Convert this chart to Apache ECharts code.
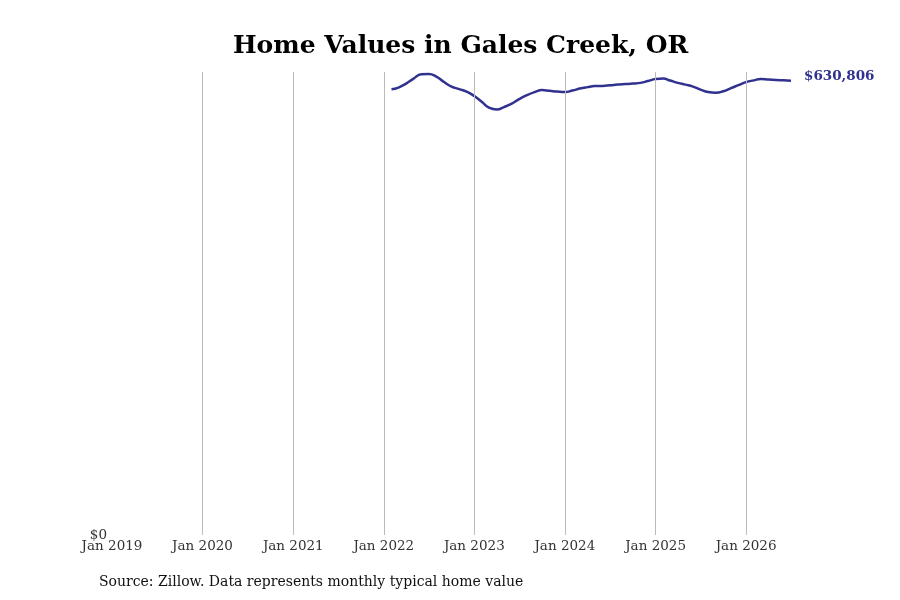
<!DOCTYPE html>
<html>
<head>
<meta charset="utf-8">
<script src="https://cdn.jsdelivr.net/npm/echarts@6/dist/echarts.min.js"></script>
<style>
  html, body { margin: 0; padding: 0; background: #fff; }
  #chart { width: 900px; height: 600px; }
</style>
</head>
<body>
<div id="chart"></div>
<script>
var months = [
	'2022-02', '2022-03', '2022-04', '2022-05', '2022-06', '2022-07', '2022-08', '2022-09', '2022-10', '2022-11', '2022-12',
	'2023-01', '2023-02', '2023-03', '2023-04', '2023-05', '2023-06', '2023-07', '2023-08', '2023-09', '2023-10', '2023-11', '2023-12',
	'2024-01', '2024-02', '2024-03', '2024-04', '2024-05', '2024-06', '2024-07', '2024-08', '2024-09', '2024-10', '2024-11', '2024-12',
	'2025-01', '2025-02', '2025-03', '2025-04', '2025-05', '2025-06', '2025-07', '2025-08', '2025-09', '2025-10', '2025-11', '2025-12',
	'2026-01', '2026-02', '2026-03', '2026-04', '2026-05', '2026-06', '2026-07'
];
var homeValues = [
	618900, 621400, 626900, 633800, 639800, 640100, 636600, 629000, 622700, 619300, 615800,
	609600, 601200, 593600, 590800, 594300, 599100, 605400, 610900, 615100, 617900, 616900, 615800,
	615100, 617200, 620000, 622000, 623400, 623700, 624500, 625500, 626200, 626900, 627900, 630400,
	633200, 633800, 631100, 627900, 625500, 622700, 618600, 615100, 614100, 616200, 620700, 624800,
	629000, 631400, 633200, 632600, 632000, 631400, 630806
];
// vertical guide lines, one per year (none at Jan 2019)
var gridYears = ['2020-01-01', '2021-01-01', '2022-01-01', '2023-01-01', '2024-01-01', '2025-01-01', '2026-01-01'];

var chart = document.getElementById('chart');
var myChart = echarts.init(chart);

var data = months.map(function (m, i) {
	return [m + '-01', homeValues[i]];
});

var font = '"DejaVu Serif", serif';

var option = {
	animation: false,
	title: {
		text: 'Home Values in Gales Creek, OR',
		left: 228,
		top: 29,
		textStyle: {
			fontFamily: font,
			fontSize: 25,
			fontWeight: 'bold',
			color: '#000'
		}
	},
	graphic: [{
		type: 'text',
		left: 99,
		top: 575,
		style: {
			text: 'Source: Zillow. Data represents monthly typical home value',
			font: '14px ' + font,
			fill: '#111'
		}
	}],
	grid: {
		left: 112,
		right: 109,
		top: 72,
		bottom: 65
	},
	xAxis: {
		type: 'time',
		min: '2019-01-01',
		max: '2026-07-01',
		splitNumber: 7,
		minInterval: 365 * 24 * 3600 * 1000,
		axisLine: { show: false },
		axisTick: { show: false },
		axisLabel: {
			formatter: '{MMM} {yyyy}',
			fontFamily: font,
			fontSize: 13.5,
			color: '#333',
			margin: 4,
			hideOverlap: false
		},
		splitLine: { show: false }
	},
	yAxis: {
		type: 'value',
		min: 0,
		max: 643000,
		interval: 643000,
		axisLine: { show: false },
		axisTick: { show: false },
		splitLine: { show: false },
		axisLabel: {
			formatter: function (v) {
				return v === 0 ? '$0' : '';
			},
			fontFamily: font,
			fontSize: 13.5,
			color: '#333',
			margin: 5
		}
	},
	series: [{
		name: 'Home value',
		type: 'line',
		data: data,
		smooth: true,
		showSymbol: false,
		lineStyle: { color: '#31318f', width: 2.5 },
		itemStyle: { color: '#31318f' },
		z: 3,
		endLabel: {
			show: true,
			distance: 13,
			offset: [0, -4],
			formatter: function (p) {
				return '$' + p.value[1].toLocaleString('en-US');
			},
			fontFamily: font,
			fontSize: 13.5,
			fontWeight: 'bold',
			color: '#31318f'
		},
		markLine: {
			silent: true,
			symbol: 'none',
			label: { show: false },
			lineStyle: { color: '#bbb', width: 1, type: 'solid' },
			data: gridYears.map(function (d) {
				return { xAxis: d };
			})
		}
	}]
};

myChart.setOption(option);
</script>
</body>
</html>
